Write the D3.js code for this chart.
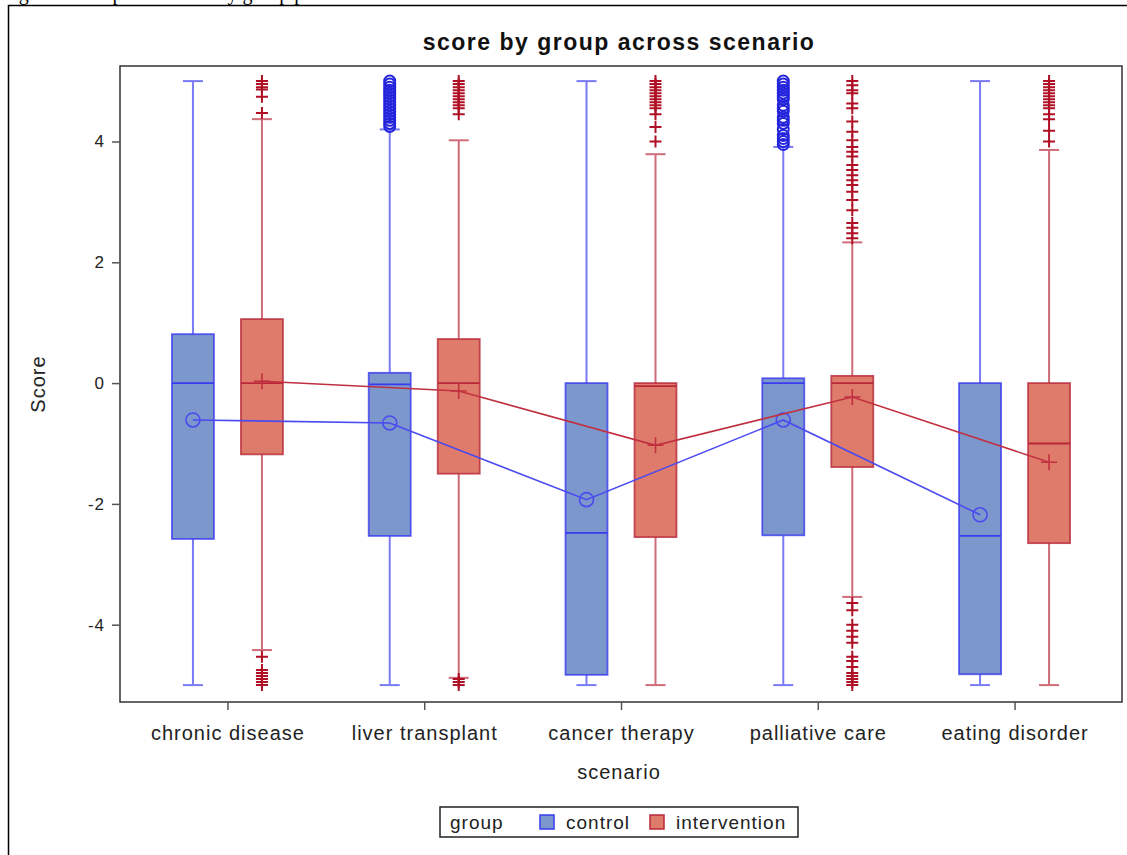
<!DOCTYPE html>
<html>
<head>
<meta charset="utf-8">
<script src="https://cdn.jsdelivr.net/npm/d3@7"></script>
<style>
  body { margin: 0; background: #fff; }
  svg { display: block; font-family: "Liberation Sans", Arial, sans-serif; }
</style>
</head>
<body>
<div id="chart"></div>
<script>
// dados
const scenarios = ['chronic disease', 'liver transplant', 'cancer therapy', 'palliative care', 'eating disorder'];
const groups = ['control', 'intervention'];
const yTicks = [-4, -2, 0, 2, 4];

// control
const controlQ1 = [-2.58, -2.53, -4.83, -2.52, -4.82];
const controlMedian = [0, -0.02, -2.48, 0, -2.53];
const controlQ3 = [0.81, 0.17, 0, 0.08, 0];
const controlMean = [-0.61, -0.66, -1.93, -0.61, -2.18];
const controlLow = [-5, -5, -5, -5, -5];
const controlHigh = [5, 4.2, 5, 3.91, 5];
const controlOutliers = [
  [],
  [4.25, 4.3, 4.35, 4.4, 4.45, 4.5, 4.55, 4.6, 4.65, 4.7, 4.75, 4.8, 4.85, 4.9, 4.95, 5.0],
  [],
  [3.95, 4.0, 4.05, 4.1, 4.2, 4.3, 4.35, 4.4, 4.5, 4.55, 4.6, 4.7, 4.75, 4.8, 4.85, 4.9, 4.95, 5.0],
  []
];

// intervention
const interQ1 = [-1.18, -1.5, -2.55, -1.39, -2.65];
const interMedian = [0, 0, -0.05, 0, -1.0];
const interQ3 = [1.06, 0.73, 0, 0.12, 0];
const interMean = [0.03, -0.13, -1.03, -0.23, -1.31];
const interLow = [-4.42, -4.88, -5, -3.54, -5];
const interHigh = [4.37, 4.02, 3.79, 2.33, 3.86];
const interOutliers = [
  [4.47, 4.74, 4.86, 4.9, 4.95, 5.0, -4.53, -4.75, -4.8, -4.85, -4.9, -4.95, -5.0],
  [4.45, 4.55, 4.6, 4.65, 4.7, 4.75, 4.8, 4.85, 4.9, 4.95, 5.0, -4.9, -4.95, -5.0],
  [4.0, 4.24, 4.45, 4.55, 4.6, 4.65, 4.7, 4.75, 4.8, 4.85, 4.9, 4.95, 5.0],
  [2.4, 2.48, 2.57, 2.65, 2.86, 3.03, 3.17, 3.28, 3.36, 3.44, 3.53, 3.61, 3.75, 3.83, 3.91,
   4.02, 4.16, 4.33, 4.55, 4.63, 4.8, 4.85, 4.93, 5.0,
   -3.64, -3.76, -4.0, -4.1, -4.2, -4.3, -4.53, -4.6, -4.7, -4.8, -4.85, -4.9, -4.95, -5.0],
  [4.0, 4.18, 4.37, 4.45, 4.55, 4.6, 4.65, 4.7, 4.75, 4.8, 4.85, 4.9, 4.95, 5.0]
];

const width = 1127, height = 855;
const plot = { left: 120, right: 1122, top: 66, bottom: 702 };

const colors = {
  control: { fill: '#7b97cc', stroke: '#3a3af0', whisker: '#7a7af5', mark: '#2424dc', line: '#4a4af0' },
  intervention: { fill: '#df7b6a', stroke: '#b8283a', whisker: '#cf6c7a', mark: '#b01025', line: '#c03040' }
};

const svg = d3.select('#chart').append('svg')
  .attr('width', width)
  .attr('height', height);

// legenda do documento (cortada no topo, como no original)
svg.append('text')
  .attr('x', 2).attr('y', 0)
  .attr('font-family', '"Liberation Serif", serif')
  .attr('font-size', 20)
  .text('Figure 3. Boxplot of score by group per scenario');

// moldura externa
svg.append('path')
  .attr('d', `M8.5,${height + 2} V5.5 H${width + 2}`)
  .attr('fill', 'none')
  .attr('stroke', '#000')
  .attr('stroke-width', 1.5);

svg.append('text')
  .attr('x', 619).attr('y', 50)
  .attr('text-anchor', 'middle')
  .attr('font-size', 23)
  .attr('font-weight', 'bold')
  .attr('letter-spacing', 1.5)
  .attr('fill', '#111')
  .text('score by group across scenario');

// escalas
const y = d3.scaleLinear().domain([-5.28, 5.25]).range([plot.bottom, plot.top]);
const x = d3.scalePoint().domain(scenarios).range([plot.left, plot.right]).padding(0.546);
const xGroup = d3.scaleBand().domain(groups).range([-69, 69]);
const boxW = 42, capW = 20;

const groupData = {
  control: { q1: controlQ1, med: controlMedian, q3: controlQ3, mean: controlMean, low: controlLow, high: controlHigh, out: controlOutliers },
  intervention: { q1: interQ1, med: interMedian, q3: interQ3, mean: interMean, low: interLow, high: interHigh, out: interOutliers }
};

const cx = (s, g) => x(s) + xGroup(g) + xGroup.bandwidth() / 2;

const gPlot = svg.append('g');

groups.forEach(g => {
  const d = groupData[g];
  const c = colors[g];
  scenarios.forEach((s, i) => {
    const xc = cx(s, g);
    const box = gPlot.append('g');
    // bigodes
    box.append('line')
      .attr('x1', xc).attr('x2', xc)
      .attr('y1', y(d.high[i])).attr('y2', y(d.q3[i]))
      .attr('stroke', c.whisker).attr('stroke-width', 2);
    box.append('line')
      .attr('x1', xc).attr('x2', xc)
      .attr('y1', y(d.q1[i])).attr('y2', y(d.low[i]))
      .attr('stroke', c.whisker).attr('stroke-width', 2);
    [d.high[i], d.low[i]].forEach(v => {
      box.append('line')
        .attr('x1', xc - capW / 2).attr('x2', xc + capW / 2)
        .attr('y1', y(v)).attr('y2', y(v))
        .attr('stroke', c.whisker).attr('stroke-width', 2);
    });
    // caixa
    box.append('rect')
      .attr('x', xc - boxW / 2)
      .attr('y', y(d.q3[i]))
      .attr('width', boxW)
      .attr('height', y(d.q1[i]) - y(d.q3[i]))
      .attr('fill', c.fill)
      .attr('stroke', c.stroke)
      .attr('stroke-opacity', 0.8)
      .attr('stroke-width', 1.8);
    box.append('line')
      .attr('x1', xc - boxW / 2).attr('x2', xc + boxW / 2)
      .attr('y1', y(d.med[i])).attr('y2', y(d.med[i]))
      .attr('stroke', c.stroke).attr('stroke-width', 1.8);
    // outliers
    d.out[i].forEach(v => {
      if (g === 'control') {
        box.append('circle')
          .attr('cx', xc).attr('cy', y(v)).attr('r', 5.5)
          .attr('fill', 'none').attr('stroke', c.mark).attr('stroke-width', 2);
      } else {
        box.append('path')
          .attr('d', `M${xc - 6},${y(v)} H${xc + 6} M${xc},${y(v) - 6} V${y(v) + 6}`)
          .attr('stroke', c.mark).attr('stroke-width', 2);
      }
    });
  });
});

// linhas de média
groups.forEach(g => {
  const d = groupData[g];
  const c = colors[g];
  const line = d3.line()
    .x((v, i) => cx(scenarios[i], g))
    .y(v => y(v));
  gPlot.append('path')
    .datum(d.mean)
    .attr('d', line)
    .attr('fill', 'none')
    .attr('stroke', c.line)
    .attr('stroke-width', 1.6);
  d.mean.forEach((v, i) => {
    const xc = cx(scenarios[i], g);
    if (g === 'control') {
      gPlot.append('circle')
        .attr('cx', xc).attr('cy', y(v)).attr('r', 7)
        .attr('fill', 'none').attr('stroke', c.line).attr('stroke-width', 1.6);
    } else {
      gPlot.append('path')
        .attr('d', `M${xc - 8},${y(v)} H${xc + 8} M${xc},${y(v) - 8} V${y(v) + 8}`)
        .attr('stroke', c.line).attr('stroke-width', 1.6);
    }
  });
});

// moldura do gráfico
svg.append('rect')
  .attr('x', plot.left).attr('y', plot.top)
  .attr('width', plot.right - plot.left)
  .attr('height', plot.bottom - plot.top)
  .attr('fill', 'none')
  .attr('stroke', '#333')
  .attr('stroke-width', 1.5);

// eixos
const yAxis = svg.append('g')
  .attr('transform', `translate(${plot.left},0)`)
  .call(d3.axisLeft(y).tickValues(yTicks).tickSize(8).tickFormat(d => String(d)));
const xAxis = svg.append('g')
  .attr('transform', `translate(0,${plot.bottom})`)
  .call(d3.axisBottom(x).tickSize(8).tickPadding(16));

[yAxis, xAxis].forEach(a => {
  a.select('.domain').remove();
  a.selectAll('.tick line').attr('stroke', '#555').attr('stroke-width', 1.5);
  a.selectAll('.tick text')
    .attr('fill', '#222')
    .attr('letter-spacing', 1)
    .attr('font-family', '"Liberation Sans", Arial, sans-serif');
});
yAxis.selectAll('.tick text').attr('font-size', 17).attr('dx', -4);
xAxis.selectAll('.tick text').attr('font-size', 20);

svg.append('text')
  .attr('transform', `translate(45,${(plot.top + plot.bottom) / 2}) rotate(-90)`)
  .attr('text-anchor', 'middle')
  .attr('font-size', 20)
  .attr('letter-spacing', 1)
  .attr('fill', '#222')
  .text('Score');

svg.append('text')
  .attr('x', 619).attr('y', 779)
  .attr('text-anchor', 'middle')
  .attr('font-size', 20)
  .attr('letter-spacing', 1)
  .attr('fill', '#222')
  .text('scenario');

// legenda
const legend = svg.append('g').attr('transform', 'translate(440,807)');
legend.append('rect')
  .attr('width', 358).attr('height', 30)
  .attr('fill', '#fff').attr('stroke', '#222').attr('stroke-width', 1.5);
legend.append('text')
  .attr('x', 10).attr('y', 22)
  .attr('font-size', 19).attr('letter-spacing', 1).attr('fill', '#222')
  .text('group');
const items = [{ g: 'control', x: 100 }, { g: 'intervention', x: 210 }];
items.forEach(it => {
  legend.append('rect')
    .attr('x', it.x).attr('y', 8)
    .attr('width', 14).attr('height', 14)
    .attr('fill', colors[it.g].fill)
    .attr('stroke', colors[it.g].stroke)
    .attr('stroke-width', 1.5);
  legend.append('text')
    .attr('x', it.x + 26).attr('y', 22)
    .attr('font-size', 19).attr('letter-spacing', 1).attr('fill', '#222')
    .text(it.g);
});
</script>
</body>
</html>
